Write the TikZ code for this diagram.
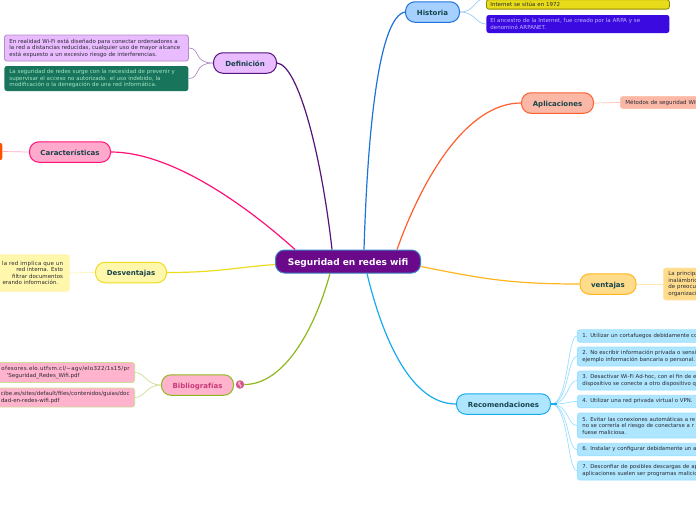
\documentclass[tikz,border=0pt]{standalone}
\usepackage{fontspec}
\setmainfont{DejaVu Sans}
\definecolor{centralfill}{HTML}{6A0A8A}
\definecolor{centraledge}{HTML}{3C82C4}
\definecolor{labelink}{HTML}{16444A}
\definecolor{smallink}{HTML}{2A2A34}
\definecolor{defcol}{HTML}{E9BBFF}
\definecolor{defedge}{HTML}{54147A}
\definecolor{deflink}{HTML}{B48CC8}
\definecolor{defgreen}{HTML}{18755C}
\definecolor{greenink}{HTML}{A4E4C4}
\definecolor{carcol}{HTML}{FFAACC}
\definecolor{caredge}{HTML}{FF1177}
\definecolor{stubcol}{HTML}{FF5200}
\definecolor{descol}{HTML}{FFF7AC}
\definecolor{desedge}{HTML}{EEDC1E}
\definecolor{deslink}{HTML}{FFF4B0}
\definecolor{bibcol}{HTML}{FFB3CC}
\definecolor{bibedge}{HTML}{8FB81E}
\definecolor{biblink}{HTML}{CFDD96}
\definecolor{bibink}{HTML}{C83A78}
\definecolor{hiscol}{HTML}{A6D0FF}
\definecolor{hisedge}{HTML}{1F72DC}
\definecolor{hislink}{HTML}{A0CCF6}
\definecolor{hisyellow}{HTML}{E8DC1A}
\definecolor{hisblue}{HTML}{3A0AE0}
\definecolor{blueink}{HTML}{C4B4FF}
\definecolor{aplcol}{HTML}{FBB8A6}
\definecolor{apledge}{HTML}{FF5F2E}
\definecolor{apllink}{HTML}{FFC4B0}
\definecolor{vencol}{HTML}{FFDC8C}
\definecolor{venedge}{HTML}{FFB61E}
\definecolor{venlink}{HTML}{FFE6B0}
\definecolor{reccol}{HTML}{AEE6FF}
\definecolor{recedge}{HTML}{18ACEE}
\definecolor{reclink}{HTML}{9CE0FF}
\tikzset{
  branch/.style={draw=#1, line width=1pt, rounded corners=9.5pt, minimum height=20.5pt,
    inner sep=0pt, text height=6pt, text depth=0pt, text=labelink, font=\fontsize{7}{8}\selectfont\bfseries},
  leaf/.style={rounded corners=2.5pt, inner xsep=5pt, inner ysep=0pt, align=left,
    line width=.8pt, text=smallink, font=\fontsize{5.5}{6.6}\selectfont},
  recleaf/.style={leaf, draw=reclink, fill=reccol, anchor=west, text width=190pt,
    font=\fontsize{5.4}{6.5}\selectfont},
  mainlink/.style={line width=1.2pt},
  sublink/.style={line width=.7pt}
}
\begin{document}
\begin{tikzpicture}[x=1pt,y=-1pt]
\useasboundingbox (0,0) rectangle (696,520);
\clip (0,0) rectangle (696,520);
\fill [white] (0,0) rectangle (696,520);
% centre
\node (central) [draw=centraledge, fill=centralfill, line width=1pt, rounded corners=9pt, text=white,
  minimum width=145pt, minimum height=23pt, inner sep=0pt, text height=8pt, text depth=0pt,
  font=\fontsize{9}{10}\selectfont\bfseries] at (348,261.5) {Seguridad en redes wifi};
% branches
\node (defi) [branch=defedge, fill=defcol, minimum width=63pt] at (245,63) {Definición};
\node (cara) [branch=caredge, fill=carcol, minimum width=81pt] at (70,152) {Características};
\node (desv) [branch=desedge, fill=descol, minimum width=71pt] at (131,272.5) {Desventajas};
\node (bibl) [branch=bibedge, fill=bibcol, minimum width=72pt, text=bibink] at (197.5,385) {Bibliografías};
\node (hist) [branch=hisedge, fill=hiscol, minimum width=54pt] at (432.5,12) {Historia};
\node (apli) [branch=apledge, fill=aplcol, minimum width=72pt] at (557.5,103) {Aplicaciones};
\node (vent) [branch=venedge, fill=vencol, minimum width=56pt] at (608,284) {ventajas};
\node (reco) [branch=recedge, fill=reccol, minimum width=94pt] at (503.5,404) {Recomendaciones};
\node (globe) [circle, fill=bibink!85!white, minimum size=8.5pt, inner sep=0pt] at (240,384.5) {};
\fill [bibcol] (238.5,381.8) -- (240.5,381.6) -- (240,384) -- (241.7,385.5) -- (240.5,387.5) -- (239.5,385) -- (238,384) -- cycle;
% leaves on the left
\node (def1) [leaf, draw=deflink, fill=defcol, anchor=west, text width=174pt, minimum height=26pt] at (4,48)
  {En realidad Wi-Fi está diseñado para conectar ordenadores a\\la red a distancias reducidas, cualquier uso de mayor alcance\\está expuesto a un excesivo riesgo de interferencias.};
\node (def2) [leaf, fill=defgreen, text=greenink, anchor=west, text width=174pt, minimum height=25pt] at (4,78.5)
  {La seguridad de redes surge con la necesidad de prevenir y\\supervisar el acceso no autorizado. el uso indebido, la\\modificación o la denegación de una red informática.};
\node (carstub) [fill=stubcol, rounded corners=2pt, anchor=east, minimum width=20pt, minimum height=17pt, inner sep=0pt] at (2.5,151.5) {};
\node (des1) [leaf, draw=deslink, fill=descol, anchor=east, align=right, text width=100pt, minimum height=36.5pt, inner xsep=6pt] at (69.5,273)
  {{\addfontfeature{LetterSpace=4}la red implica que un}\\red interna. Esto\hspace*{9.5pt}\\filtrar documentos\hspace*{6pt}\\erando información.\hspace*{5pt}};
\node (bib1) [leaf, draw=biblink, fill=bibcol, anchor=east, align=right, text width=150pt, minimum height=20pt] at (135,372.5)
  {{\addfontfeature{LetterSpace=5}ofesores.elo.utfsm.cl/\textasciitilde agv/elo322/1s15/pr}\\'Seguridad\_Redes\_Wifi.pdf\hspace*{50pt}};
\node (bib2) [leaf, draw=biblink, fill=bibcol, anchor=east, align=right, text width=150pt, minimum height=19pt] at (135,397.5)
  {cibe.es/sites/default/files/contenidos/guias/doc\\dad-en-redes-wifi.pdf\hspace*{70pt}};
% leaves on the right
\node (his1) [leaf, draw=olive, fill=hisyellow, anchor=south west, text width=175pt, inner xsep=4pt, inner ysep=2.5pt] at (486,9.5)
  {Internet se sitúa en 1972};
\coordinate (his1top) at (484,-1);
\node (his2) [leaf, fill=hisblue, text=blueink, anchor=west, text width=175pt, inner xsep=4pt, minimum height=18pt] at (486,24)
  {El ancestro de la Internet, fue creado por la ARPA y se\\denominó ARPANET.};
\node (apl1) [leaf, draw=apllink, fill=aplcol, anchor=west, text width=120pt, minimum height=12pt] at (620,102.5)
  {Métodos de seguridad Wifi};
\node (ven1) [leaf, draw=venlink, fill=vencol, anchor=west, text width=120pt, minimum height=32pt] at (663,284)
  {La principa\\inalámbric\\de preocup\\organizaci};
\node (rec1) [recleaf, minimum height=12.5pt] at (577,336) {1. Utilizar un cortafuegos debidamente co};
\node (rec2) [recleaf, minimum height=19pt] at (577,356.5) {2. No escribir información privada o sensi\\ejemplo información bancaria o personal.};
\node (rec3) [recleaf, minimum height=19pt] at (577,380.5) {3. Desactivar Wi-Fi Ad-hoc, con el fin de e\\dispositivo se conecte a otro dispositivo q};
\node (rec4) [recleaf, minimum height=12.5pt] at (577,401.5) {4. Utilizar una red privada virtual o VPN.};
\node (rec5) [recleaf, minimum height=25pt] at (577,425.5) {5. Evitar las conexiones automáticas a re\\no se correría el riesgo de conectarse a r\\fuese maliciosa.};
\node (rec6) [recleaf, minimum height=12.5pt] at (577,449.5) {6. Instalar y configurar debidamente un a};
\node (rec7) [recleaf, minimum height=19pt] at (577,470.5) {7. Desconfiar de posibles descargas de ap\\aplicaciones suelen ser programas malicio};
% main connectors
\draw [mainlink, defedge] (defi.east) .. controls +(22,2) and +(-10,-90) .. ([xshift=-16pt]central.north);
\draw [mainlink, hisedge] (hist.west) .. controls +(-25,5) and +(4,-130) .. ([xshift=16pt]central.north);
\draw [mainlink, apledge] (apli.west) .. controls +(-55,0) and +(25,-70) .. ([xshift=49pt]central.north);
\draw [mainlink, caredge] (cara.east) .. controls +(60,0) and +(-50,-45) .. ([xshift=-53pt]central.north);
\draw [mainlink, desedge] (desv.east) .. controls +(50,0) and +(-40,3) .. ([yshift=-3pt]central.west);
\draw [mainlink, bibedge] (globe.east) .. controls +(40,0) and +(-15,55) .. ([xshift=-18pt]central.south);
\draw [mainlink, venedge] (vent.west) .. controls +(-70,0) and +(60,12) .. ([yshift=-5pt]central.east);
\draw [mainlink, recedge] (reco.west) .. controls +(-50,0) and +(12,50) .. ([xshift=19pt]central.south);
% links to the leaves
\draw [sublink, deflink] (defi.west) .. controls +(-20,0) and +(12,0) .. (def1.east);
\draw [sublink, deflink] (defi.west) .. controls +(-20,0) and +(12,0) .. (def2.east);
\draw [sublink, hislink] (hist.east) .. controls +(15,0) and +(-10,0) .. (his1top);
\draw [sublink, hislink] (hist.east) .. controls +(15,0) and +(-10,0) .. (his2.west);
\draw [sublink, biblink] (bibl.west) .. controls +(-15,0) and +(10,0) .. (bib1.east);
\draw [sublink, biblink] (bibl.west) .. controls +(-15,0) and +(10,0) .. (bib2.east);
\draw [sublink, carcol] (cara.west) -- (carstub.east);
\draw [sublink, deslink] (desv.west) -- (des1.east);
\draw [sublink, apllink] (apli.east) -- (apl1.west);
\draw [sublink, venlink] (vent.east) -- (ven1.west);
\foreach \n in {1,...,7}
  \draw [sublink, reclink] (reco.east) .. controls +(18,0) and +(-10,0) .. (rec\n.west);
\draw [line width=1.2pt, recedge] (reco.east) -- +(6,0);
\end{tikzpicture}
\end{document}
